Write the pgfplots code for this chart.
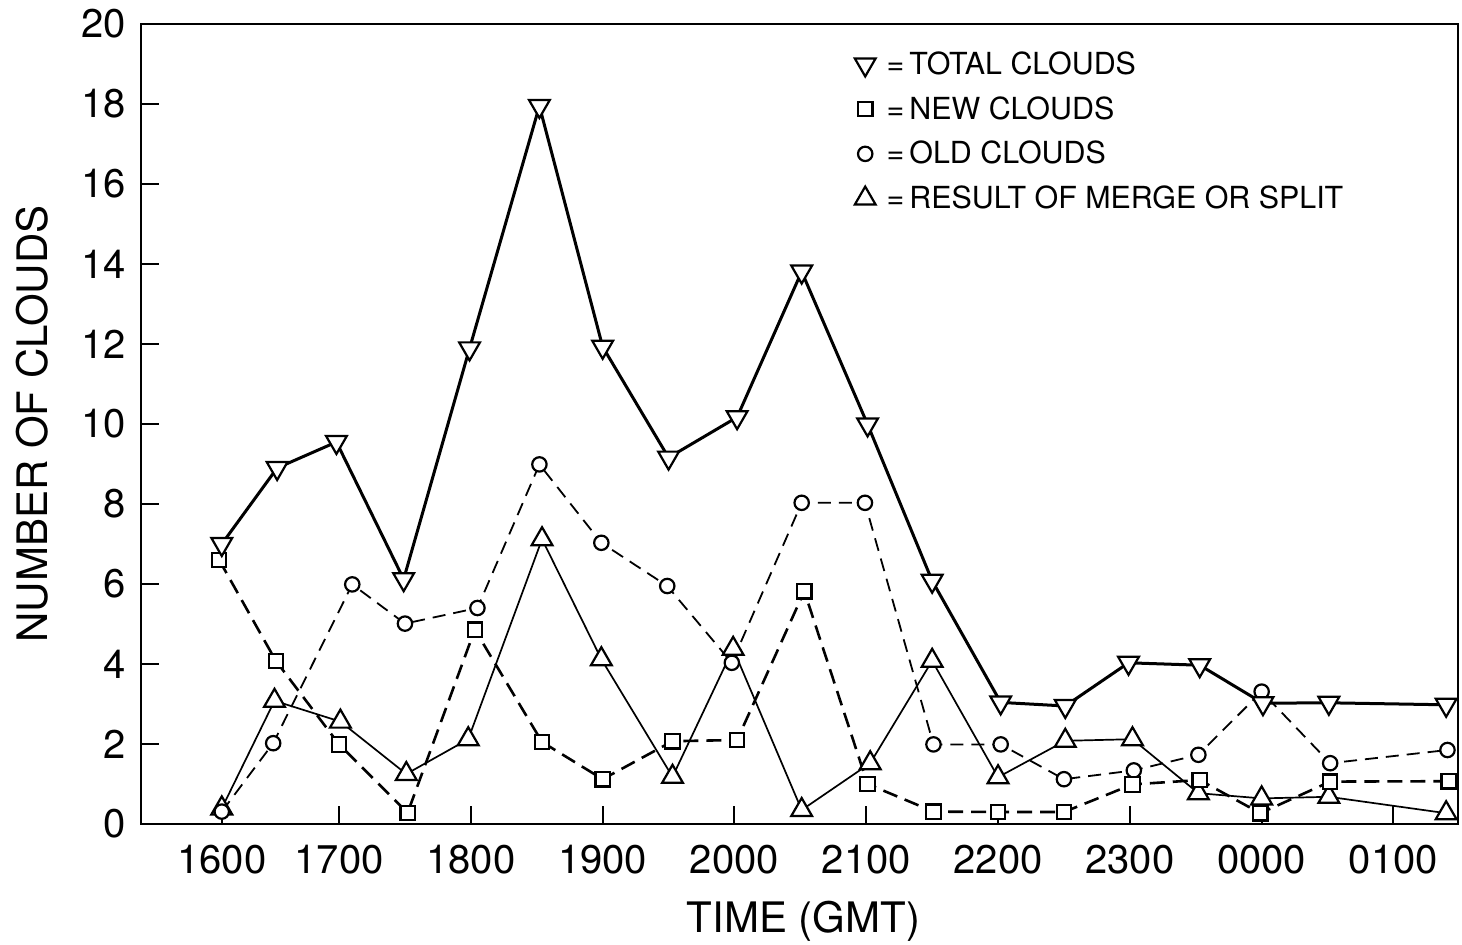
\documentclass[border=0pt]{standalone}
\usepackage{pgfplots}
\pgfplotsset{compat=1.18}
\usepackage{fontspec}
\setmainfont{TeX Gyre Heros}

\pgfplotstableread{
x y
0.11 7.00
0.53 8.90
0.98 9.55
1.49 6.12
1.99 11.89
2.52 17.95
3.00 11.93
3.50 9.16
4.02 10.17
4.51 13.81
5.01 9.99
5.50 6.08
6.02 3.04
6.51 2.95
6.99 4.03
7.53 3.97
8.01 3.02
8.51 3.03
9.40 2.98
}\totaltab

\pgfplotstableread{
x y
0.09 6.60
0.52 4.08
1.00 1.99
1.52 0.28
2.03 4.86
2.54 2.05
3.00 1.12
3.53 2.07
4.02 2.10
4.53 5.82
5.01 1.00
5.51 0.31
6.00 0.30
6.50 0.30
7.02 0.99
7.53 1.10
7.99 0.27
8.52 1.06
9.42 1.07
}\newtab

\pgfplotstableread{
x y
0.11 0.31
0.50 2.02
1.10 5.99
1.50 5.01
2.05 5.40
2.52 8.99
2.99 7.03
3.49 5.95
3.98 4.03
4.51 8.03
4.99 8.03
5.51 1.99
6.02 1.99
6.50 1.12
7.03 1.34
7.52 1.73
8.00 3.31
8.52 1.52
9.41 1.85
}\oldtab

\pgfplotstableread{
x y
0.11 0.39
0.51 3.08
1.01 2.56
1.51 1.25
1.98 2.12
2.54 7.12
2.99 4.12
3.53 1.18
3.99 4.38
4.51 0.35
5.03 1.52
5.50 4.08
6.00 1.17
6.51 2.08
7.02 2.12
7.52 0.77
8.00 0.64
8.51 0.68
9.40 0.27
}\mergetab

\begin{document}
\begin{tikzpicture}
\begin{axis}[
  scale only axis,
  width=658.5pt, height=400pt,
  xmin=-0.503, xmax=9.49,
  ymin=0, ymax=20,
  xtick={0.11,1,2,3,4,5,6,7,8,9},
  xticklabels={1600,1700,1800,1900,2000,2100,2200,2300,0000,0100},
  ytick={0,2,...,20},
  tick pos=left,
  tick align=inside,
  major tick length=9pt,
  axis line style={line width=1pt},
  every tick/.style={line width=1pt, black},
  /pgf/number format/assume math mode=true,
  ticklabel style={font=\fontsize{20}{22}\selectfont},
  xticklabel style={inner sep=0pt, anchor=north, yshift=-10.5pt},
  yticklabel style={inner sep=0pt, anchor=east, xshift=-7.5pt},
  xlabel={TIME (GMT)},
  ylabel={NUMBER OF CLOUDS},
  every axis x label/.style={at={(axis description cs:0.503,-0.121)}, anchor=center, font=\fontsize{21}{24}\selectfont},
  every axis y label/.style={at={(axis description cs:-0.0828,0.5)}, anchor=center, rotate=90, font=\fontsize{21}{24}\selectfont},
  legend cell align=left,
  reverse legend,
  legend style={draw=none, fill=none, inner sep=0pt,
    at={(axis description cs:0.5417,0.966)}, anchor=north west,
    font=\fontsize{15.2}{17}\selectfont,
    nodes={inner sep=0pt},
    row sep=9.5pt, column sep=5.5pt},
  legend image code/.code={\draw[#1,only marks] plot coordinates {(0pt,0pt)};},
]
\addplot[black, line width=0.85pt, mark=triangle*, mark size=6pt,
  mark options={solid, fill=white, line width=1.1pt}] table[x=x,y=y] {\mergetab};
\addlegendentry{=\,RESULT OF MERGE OR SPLIT}
\addplot[black, line width=0.9pt, dash pattern=on 6.5pt off 4pt, mark=*, mark size=3.6pt,
  mark options={solid, fill=white, line width=1.1pt}] table[x=x,y=y] {\oldtab};
\addlegendentry{=\,OLD CLOUDS}
\addplot[black, line width=1.3pt, dash pattern=on 7.5pt off 4pt, mark=square*, mark size=3.6pt,
  mark options={solid, fill=white, line width=1.1pt}] table[x=x,y=y] {\newtab};
\addlegendentry{=\,NEW CLOUDS}
\addplot[black, line width=1.5pt, mark=triangle*, mark size=6pt,
  mark options={solid, fill=white, rotate=180, line width=1.1pt}] table[x=x,y=y] {\totaltab};
\addlegendentry{=\,TOTAL CLOUDS}
\coordinate (bl) at (rel axis cs:0,0);
\coordinate (tr) at (rel axis cs:1,1);
\end{axis}
\pgfresetboundingbox
\useasboundingbox ([shift={(-70.5pt,-60pt)}]bl) rectangle ([shift={(2pt,12pt)}]tr);
\end{tikzpicture}
\end{document}
